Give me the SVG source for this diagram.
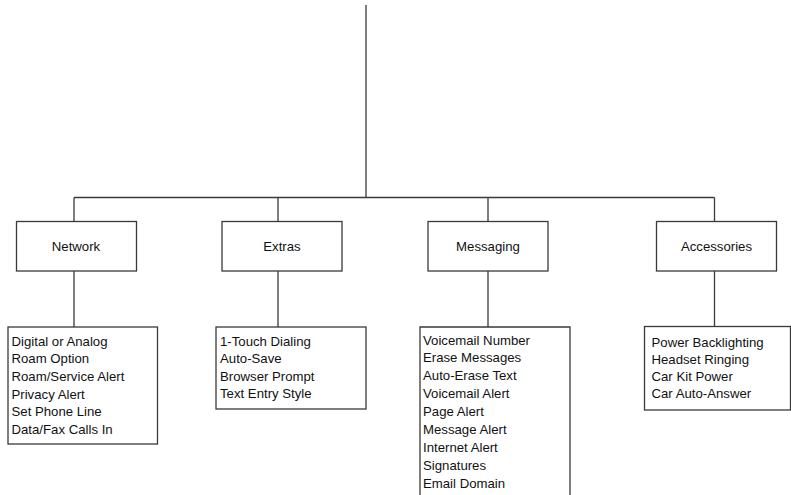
<svg xmlns="http://www.w3.org/2000/svg" width="791" height="495" viewBox="0 0 791 495">
<style>
.box{fill:#fff;stroke:#3a3a3a;stroke-width:1.3}
.ln{fill:none;stroke:#3a3a3a;stroke-width:1.3}
text{font-family:"Liberation Sans",Arial,sans-serif;font-size:13.2px;fill:#111}
.c{text-anchor:middle}
</style>
<rect width="791" height="495" fill="#fff"/>
<g id="connectors">
<path class="ln" d="M366 5V197.5M74 197.5H714.5M74 197.5V221M278 197.5V221M488 197.5V221M714.5 197.5V221M74 271V327M278 271V327M488 271V327M714.5 271V326"/>
</g>
<g id="network">
<rect class="box" x="16.5" y="221.5" width="120" height="49.5"/>
<text class="c" x="76" y="250.5">Network</text>
</g>
<g id="extras">
<rect class="box" x="222" y="221.5" width="120" height="49.5"/>
<text class="c" x="282" y="250.5">Extras</text>
</g>
<g id="messaging">
<rect class="box" x="428" y="221.5" width="120" height="49.5"/>
<text class="c" x="488" y="250.5">Messaging</text>
</g>
<g id="accessories">
<rect class="box" x="656.5" y="221.5" width="120" height="49.5"/>
<text class="c" x="716.5" y="250.5">Accessories</text>
</g>
<g id="network-list">
<rect class="box" x="8" y="327" width="149.5" height="117"/>
<text x="11.5" y="345.5">Digital or Analog</text>
<text x="11.5" y="363.2">Roam Option</text>
<text x="11.5" y="380.9">Roam/Service Alert</text>
<text x="11.5" y="398.6">Privacy Alert</text>
<text x="11.5" y="416.3">Set Phone Line</text>
<text x="11.5" y="434">Data/Fax Calls In</text>
</g>
<g id="extras-list">
<rect class="box" x="216" y="327" width="150" height="82"/>
<text x="220" y="345.5">1-Touch Dialing</text>
<text x="220" y="363">Auto-Save</text>
<text x="220" y="380.5">Browser Prompt</text>
<text x="220" y="398">Text Entry Style</text>
</g>
<g id="messaging-list">
<path class="box" d="M420 496V327H570V496"/>
<text x="423" y="344.5">Voicemail Number</text>
<text x="423" y="362.4">Erase Messages</text>
<text x="423" y="380.3">Auto-Erase Text</text>
<text x="423" y="398.2">Voicemail Alert</text>
<text x="423" y="416.1">Page Alert</text>
<text x="423" y="434">Message Alert</text>
<text x="423" y="451.9">Internet Alert</text>
<text x="423" y="469.8">Signatures</text>
<text x="423" y="487.7">Email Domain</text>
</g>
<g id="accessories-list">
<rect class="box" x="644.5" y="326.5" width="146" height="83.5"/>
<text x="651.5" y="347">Power Backlighting</text>
<text x="651.5" y="364">Headset Ringing</text>
<text x="651.5" y="381">Car Kit Power</text>
<text x="651.5" y="398">Car Auto-Answer</text>
</g>
</svg>
